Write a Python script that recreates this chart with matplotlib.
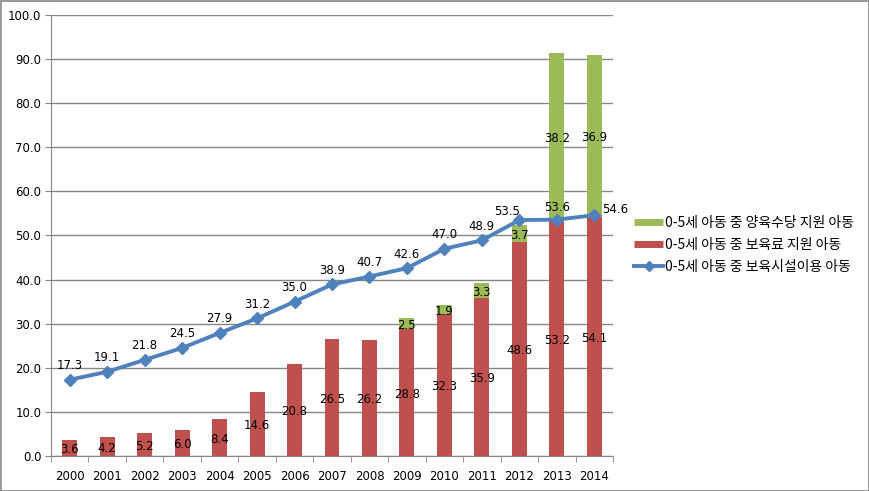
import matplotlib
matplotlib.use("Agg")
import matplotlib.pyplot as plt
from matplotlib.lines import Line2D
from matplotlib.patches import Rectangle
import numpy as np

years = ["2000", "2001", "2002", "2003", "2004", "2005", "2006", "2007",
         "2008", "2009", "2010", "2011", "2012", "2013", "2014"]
fee_support = [3.6, 4.2, 5.2, 6.0, 8.4, 14.6, 20.8, 26.5, 26.2, 28.8, 32.3, 35.9, 48.6, 53.2, 54.1]
home_allowance = [0, 0, 0, 0, 0, 0, 0, 0, 0, 2.5, 1.9, 3.3, 3.7, 38.2, 36.9]
facility_use = [17.3, 19.1, 21.8, 24.5, 27.9, 31.2, 35.0, 38.9, 40.7, 42.6, 47.0, 48.9, 53.5, 53.6, 54.6]

label_green = "0-5세 아동 중 양육수당 지원 아동"
label_red = "0-5세 아동 중 보육료 지원 아동"
label_line = "0-5세 아동 중 보육시설이용 아동"

RED = "#C0504D"
GREEN = "#9BBB59"
BLUE = "#4F81BD"
GRID = "#868686"

plt.rcParams['font.family'] = ['DejaVu Sans', 'Noto Sans CJK KR']

fig = plt.figure(figsize=(8.7, 4.91), dpi=100)
ax = fig.add_axes([51/870, 35/491, 562/870, 441/491])

x = np.arange(len(years))
w = 0.4
ax.bar(x, fee_support, width=w, color=RED, zorder=2)
ax.bar(x, home_allowance, width=w, bottom=fee_support, color=GREEN, zorder=2)
ax.plot(x, facility_use, color=BLUE, lw=2.8, marker='D', markersize=6.5,
        markerfacecolor=BLUE, markeredgecolor=BLUE, zorder=4)

fs = 8.5
for i in range(len(years)):
    ax.text(x[i], fee_support[i] / 2 - 0.4, f"{fee_support[i]:.1f}", ha='center', va='center',
            fontsize=fs, color='black', zorder=5)
    if home_allowance[i] > 0:
        ax.text(x[i], fee_support[i] + home_allowance[i] / 2 - 0.4, f"{home_allowance[i]:.1f}",
                ha='center', va='center', fontsize=fs, color='black', zorder=5)

offsets = {12: (-12, 9), 13: (0, 12), 14: (8, 6)}
for i in range(len(years)):
    dx, dy = offsets.get(i, (0, 14))
    ha = 'left' if i == 14 else 'center'
    ax.annotate(f"{facility_use[i]:.1f}", (x[i], facility_use[i]), textcoords='offset pixels',
                xytext=(dx, dy), ha=ha, va='center', fontsize=fs, color='black', zorder=5)

ax.set_xlim(-0.5, len(years) - 0.5)
ax.set_ylim(0, 100)
ax.set_yticks(np.arange(0, 101, 10))
ax.set_yticklabels([f"{v:.1f}" for v in np.arange(0, 101, 10)], fontsize=fs)
ax.yaxis.grid(True, color=GRID, lw=1)
ax.set_axisbelow(True)
ax.set_xticks(x)
ax.set_xticklabels(years, fontsize=fs)
ax.set_xticks(np.arange(-0.5, len(years), 1), minor=True)
ax.tick_params(axis='x', which='major', length=0, pad=10)
ax.tick_params(axis='x', which='minor', length=4, color=GRID, direction='out')
ax.tick_params(axis='y', length=4, color=GRID, direction='out', pad=3)
for s in ['top', 'right']:
    ax.spines[s].set_visible(False)
for s in ['left', 'bottom']:
    ax.spines[s].set_color(GRID)

handles = [
    Line2D([0], [0], color=GREEN, lw=5, solid_capstyle='butt'),
    Line2D([0], [0], color=RED, lw=5, solid_capstyle='butt'),
    Line2D([0], [0], color=BLUE, lw=2.8, marker='D', markersize=5),
]
leg = fig.legend(handles, [label_green, label_red, label_line], loc='center left',
                 bbox_to_anchor=(634/870, 246/491), frameon=False,
                 handlelength=2.1, handletextpad=0.15, labelspacing=0.6,
                 borderpad=0, borderaxespad=0,
                 prop={'family': ['Noto Sans CJK KR', 'DejaVu Sans'], 'size': 10})

fig.patches.append(Rectangle((0.5/870, 0.5/491), 868.5/870, 489.5/491, transform=fig.transFigure,
                             fill=False, edgecolor=GRID, lw=1.2))

fig.savefig("out.png", dpi=100)
